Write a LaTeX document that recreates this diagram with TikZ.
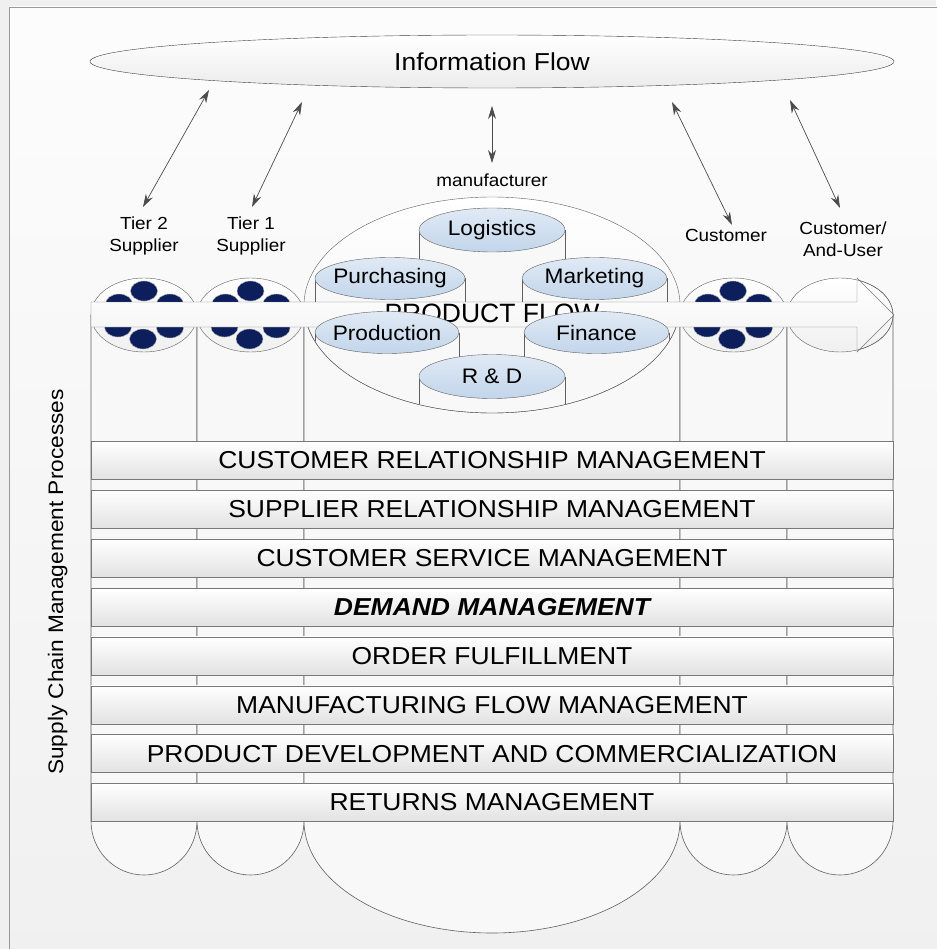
\documentclass[tikz,border=0pt]{standalone}
\usepackage{fontspec}
\setmainfont{Liberation Sans}[FakeStretch=1.08]
\newfontfamily\flowfont{Liberation Sans}
\usetikzlibrary{arrows.meta,shapes.geometric}

\definecolor{navydot}{RGB}{12,30,92}
\definecolor{lineg}{RGB}{96,96,96}
\definecolor{bandg}{RGB}{226,226,226}
\definecolor{bluetop}{RGB}{224,234,245}
\definecolor{bluebot}{RGB}{194,213,234}
\definecolor{colfill}{RGB}{248,248,248}
\definecolor{bgg}{RGB}{240,240,240}

\tikzset{
	procband/.style={rectangle, draw=lineg!85, top color=white, bottom color=bandg, minimum width=802pt, minimum height=38pt, inner sep=0pt, font=\fontsize{24.5}{28}\selectfont},
	colline/.style={draw=lineg, line width=0.6pt},
	colbody/.style={fill=colfill},
	coltop/.style={ellipse, draw=lineg, top color=white, bottom color=gray!12, inner sep=0pt},
	dot/.style={ellipse, draw=gray!60, fill=navydot, minimum width=27pt, minimum height=20pt, inner sep=0pt},
	cyltop/.style={ellipse, draw=lineg, top color=bluetop, bottom color=bluebot, inner sep=0pt},
	cyltext/.style={font=\fontsize{21}{24}\selectfont, inner sep=0pt},
	partner/.style={align=center, font=\fontsize{17.5}{22.5}\selectfont, inner sep=0pt},
	infolink/.style={{Stealth[length=13pt,width=8pt]}-{Stealth[length=13pt,width=8pt]}, color=black!70, line width=0.7pt}
}

\begin{document}
\begin{tikzpicture}[x=1pt, y=-1pt]
	\useasboundingbox (0,0) rectangle (936,949);
	\fill[bgg] (0,0) rectangle (936,949);
	\draw[gray!80, top color=gray!2, bottom color=bgg] (9,7) rectangle (960,970);
	
	% information flow
	\node[ellipse, draw=black!75, top color=white, bottom color=gray!15, minimum width=804pt, minimum height=53pt, inner sep=0pt, font=\fontsize{24.5}{28}\selectfont] (info) at (492,61.5) {Information Flow};
	
	\node[partner] (tiertwolbl) at (144,236) {Tier 2\\Supplier};
	\node[partner] (tieronelbl) at (251,236) {Tier 1\\Supplier};
	\node[partner] (mfrlbl) at (492,180) {manufacturer};
	\node[partner] (custlbl) at (726,235) {Customer};
	\node[partner] (enduserlbl) at (843,239) {Customer/\\And-User};
	
	\coordinate (i1) at (209,90);
	\coordinate (s1) at (143,207);
	\draw[infolink] (i1) -- (s1);
	\coordinate (i2) at (302,102);
	\coordinate (s2) at (252,207);
	\draw[infolink] (i2) -- (s2);
	\coordinate (i3) at (492,106);
	\coordinate (s3) at (492,163);
	\draw[infolink] (i3) -- (s3);
	\coordinate (i4) at (672,102);
	\coordinate (s4) at (732,225);
	\draw[infolink] (i4) -- (s4);
	\coordinate (i5) at (790,100);
	\coordinate (s5) at (840,208);
	\draw[infolink] (i5) -- (s5);
	
	% columns
	\path[colbody, colline] (91,315) -- (91,821) arc[start angle=180, end angle=0, x radius=53, y radius=54] -- (197,315);
	\path[colbody, colline] (197,315) -- (197,821) arc[start angle=180, end angle=0, x radius=53.5, y radius=54] -- (304,315);
	\path[colbody, colline] (304,305) -- (304,821) arc[start angle=180, end angle=0, x radius=188, y radius=112] -- (680,305);
	\path[colbody, colline] (680,315) -- (680,821) arc[start angle=180, end angle=0, x radius=53.5, y radius=54] -- (787,315);
	\path[colbody, colline] (787,315) -- (787,821) arc[start angle=180, end angle=0, x radius=53, y radius=54] -- (893,315);
	
	\node[coltop, minimum width=106pt, minimum height=74pt] (tiertwo) at (144,315) {};
	\node[coltop, minimum width=107pt, minimum height=74pt] (tierone) at (250.5,315) {};
	\node[coltop, minimum width=376pt, minimum height=216pt] (mfr) at (492,305) {};
	\node[coltop, minimum width=107pt, minimum height=74pt] (cust) at (733.5,315) {};
	\node[coltop, minimum width=106pt, minimum height=74pt] (enduser) at (840,315) {};
	
	% dots
	\node[dot] (t2a) at (144,291) {};
	\node[dot] (t2b) at (119,304) {};
	\node[dot] (t2c) at (170,304) {};
	\node[dot] (t2d) at (118,327) {};
	\node[dot] (t2e) at (170,328) {};
	\node[dot] (t2f) at (143,339) {};
	\node[dot] (t1a) at (250.5,291) {};
	\node[dot] (t1b) at (225.5,304) {};
	\node[dot] (t1c) at (276.5,304) {};
	\node[dot] (t1d) at (224.5,327) {};
	\node[dot] (t1e) at (276.5,328) {};
	\node[dot] (t1f) at (249.5,339) {};
	\node[dot] (cua) at (733,291) {};
	\node[dot] (cub) at (708,304) {};
	\node[dot] (cuc) at (759,304) {};
	\node[dot] (cud) at (707,327) {};
	\node[dot] (cue) at (759,328) {};
	\node[dot] (cuf) at (732,339) {};
	
	% departments behind the flow
	\begin{scope}
		\clip (492,305) ellipse [x radius=187.5, y radius=107.5];
		\fill[colbody] (419,230) rectangle (565,380);
		\draw[colline] (419,230) -- (419,380) (565,230) -- (565,380);
		\node[cyltop, minimum width=146pt, minimum height=44pt] (logistics) at (492,230) {};
		\node[cyltext] (logisticstxt) at (logistics) {Logistics};
		\fill[colbody] (315,278.5) rectangle (465,327);
		\draw[colline] (315,278.5) -- (315,327) (465,278.5) -- (465,327);
		\node[cyltop, minimum width=150pt, minimum height=42pt] (purchasing) at (390,278.5) {};
		\node[cyltext] (purchasingtxt) at (purchasing) {Purchasing};
		\fill[colbody] (522,278.5) rectangle (667,327);
		\draw[colline] (522,278.5) -- (522,327) (667,278.5) -- (667,327);
		\node[cyltop, minimum width=145pt, minimum height=42pt] (marketing) at (594.5,278.5) {};
		\node[cyltext] (marketingtxt) at (marketing) {Marketing};
	\end{scope}
	
	% product flow
	\draw[lineg!85, top color=white, bottom color=gray!10] (91,302) -- (857,302) -- (857,278) -- (894,315) -- (857,352) -- (857,327) -- (91,327) -- cycle;
	\begin{scope}
		\clip (857,270) rectangle (900,360);
		\draw[lineg] (840,315) ellipse [x radius=53, y radius=37];
	\end{scope}
	\node[font=\flowfont\fontsize{26.5}{30}\selectfont, inner sep=0pt] (flowtxt) at (492,313) {PRODUCT FLOW};
	
	% departments in front of the flow
	\begin{scope}
		\clip (492,305) ellipse [x radius=187.5, y radius=107.5];
		\fill[colbody] (315,332.5) rectangle (459,420);
		\draw[colline] (315,332.5) -- (315,420) (459,332.5) -- (459,420);
		\node[cyltop, minimum width=144pt, minimum height=42pt] (production) at (387,332.5) {};
		\node[cyltext] (productiontxt) at (production) {Production};
		\fill[colbody] (524,332.5) rectangle (669,420);
		\draw[colline] (524,332.5) -- (524,420) (669,332.5) -- (669,420);
		\node[cyltop, minimum width=145pt, minimum height=42pt] (finance) at (596.5,332.5) {};
		\node[cyltext] (financetxt) at (finance) {Finance};
		\fill[colbody] (419,376.5) rectangle (565,420);
		\draw[colline] (419,376.5) -- (419,420) (565,376.5) -- (565,420);
		\node[cyltop, minimum width=146pt, minimum height=44pt] (rnd) at (492,376.5) {};
		\node[cyltext] (rndtxt) at (rnd) {R \& D};
	\end{scope}
	\begin{scope}
		\clip (300,327) rectangle (690,420);
		\draw[lineg] (492,305) ellipse [x radius=188, y radius=108];
	\end{scope}
	
	% processes
	\node[procband] (crm) at (492,460.5) {CUSTOMER RELATIONSHIP MANAGEMENT};
	\node[procband] (srm) at (492,509.4) {SUPPLIER RELATIONSHIP MANAGEMENT};
	\node[procband] (csm) at (492,558.2) {CUSTOMER SERVICE MANAGEMENT};
	\node[procband, font=\fontsize{24.5}{28}\selectfont\bfseries\itshape] (dm) at (492,607.1) {DEMAND MANAGEMENT};
	\node[procband] (of) at (492,655.9) {ORDER FULFILLMENT};
	\node[procband] (mfm) at (492,704.8) {MANUFACTURING FLOW MANAGEMENT};
	\node[procband] (pdc) at (492,753.6) {PRODUCT DEVELOPMENT AND COMMERCIALIZATION};
	\node[procband] (rm) at (492,802.5) {RETURNS MANAGEMENT};
	
	\node[rotate=90, anchor=base, inner sep=0pt, font=\fontsize{21}{24}\selectfont] (scmp) at (63,582) {Supply Chain Management Processes};
\end{tikzpicture}
\end{document}
